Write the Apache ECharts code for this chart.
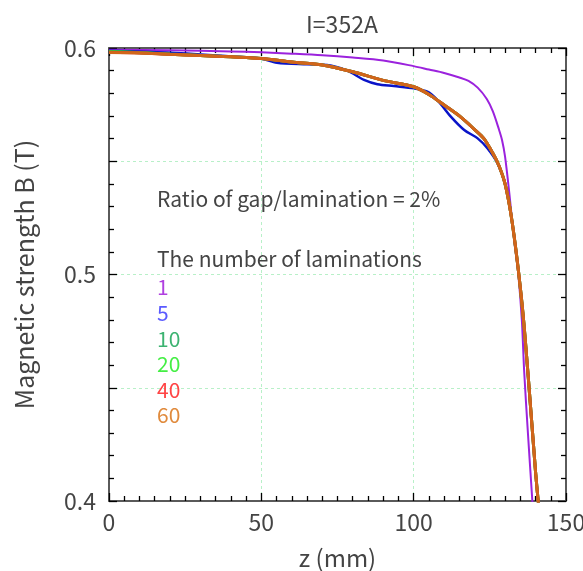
<!DOCTYPE html>
<html>
<head>
<meta charset="utf-8">
<script src="https://cdn.jsdelivr.net/npm/echarts@6/dist/echarts.min.js"></script>
<style>
  html, body { margin: 0; padding: 0; background: #fff; }
  #chart { width: 583px; height: 571px; }
</style>
</head>
<body>
<div id="chart"></div>
<script>
// Axial position z (mm) and field B (T) for each lamination count
const zOne = [0, 20, 40, 50, 60, 70, 80, 90, 100, 105, 110, 115, 118, 121, 124, 126, 128, 129, 130, 131.4, 133, 134.3, 135.5, 136.3, 137.5, 139];
const bOne = [0.5992, 0.5990, 0.5985, 0.5981, 0.5975, 0.5968, 0.5958, 0.5945, 0.5920, 0.5905, 0.5890, 0.5870, 0.5855, 0.5825, 0.5775, 0.5720, 0.5640, 0.5594, 0.5520, 0.5358, 0.5150, 0.5007, 0.4800, 0.4565, 0.4300, 0.3991];

const zFive = [0, 19, 40, 49.7, 55.1, 65, 71.6, 78.2, 83.7, 88.1, 93.5, 100.1, 104.5, 107.8, 112.2, 116.6, 121, 124.2, 127.5, 130, 132, 134, 136, 138, 140, 141];
const bFive = [0.5988, 0.5980, 0.5963, 0.5954, 0.5935, 0.5928, 0.5925, 0.5900, 0.5859, 0.5840, 0.5832, 0.5822, 0.5807, 0.5770, 0.5697, 0.5638, 0.5601, 0.5557, 0.5491, 0.5400, 0.5260, 0.5060, 0.4810, 0.4480, 0.4130, 0.3980];

const zMany = [0, 10, 20, 30, 40, 50, 60, 70, 80, 90, 100, 105, 110, 115, 120, 123, 126, 128, 130, 132, 134, 136, 138, 140, 141];
const bTen = [0.5985, 0.5980, 0.5973, 0.5967, 0.5961, 0.5954, 0.5938, 0.5925, 0.5895, 0.5857, 0.5829, 0.5795, 0.5748, 0.5700, 0.5640, 0.5601, 0.5535, 0.5480, 0.5400, 0.5260, 0.5060, 0.4810, 0.4480, 0.4130, 0.3980];
const bTwenty = [0.5983, 0.5979, 0.5972, 0.5967, 0.5961, 0.5954, 0.5938, 0.5925, 0.5895, 0.5857, 0.5829, 0.5795, 0.5748, 0.5700, 0.5640, 0.5601, 0.5535, 0.5480, 0.5400, 0.5260, 0.5060, 0.4810, 0.4480, 0.4130, 0.3980];
const bForty = [0.5981, 0.5978, 0.5972, 0.5967, 0.5961, 0.5954, 0.5938, 0.5925, 0.5895, 0.5857, 0.5829, 0.5795, 0.5748, 0.5700, 0.5640, 0.5601, 0.5535, 0.5480, 0.5400, 0.5260, 0.5060, 0.4810, 0.4480, 0.4130, 0.3980];
const bSixty = [0.5980, 0.5978, 0.5972, 0.5967, 0.5961, 0.5954, 0.5938, 0.5925, 0.5895, 0.5857, 0.5829, 0.5795, 0.5748, 0.5700, 0.5640, 0.5601, 0.5535, 0.5480, 0.5400, 0.5260, 0.5060, 0.4810, 0.4480, 0.4130, 0.3980];

const laminationNames = ['1', '5', '10', '20', '40', '60'];
const lineColors = ['#9b22dd', '#0a14c8', '#2e9e5a', '#2ee82e', '#ee2a2a', '#d0661a'];
const labelColors = ['#b040e0', '#5a5aff', '#3cb371', '#44ee44', '#ff4444', '#e08a3c'];
const lineWidths = [2, 2.5, 3, 3, 3, 3];

const xTickLabels = ['0', '50', '100', '150'];
const yTickLabels = ['0.4', '0.5', '0.6'];

function pairs(xs, ys) { return xs.map((x, i) => [x, ys[i]]); }
const seriesData = [pairs(zOne, bOne), pairs(zFive, bFive), pairs(zMany, bTen), pairs(zMany, bTwenty), pairs(zMany, bForty), pairs(zMany, bSixty)];

const FONT = '"Noto Sans CJK JP", "Noto Sans", sans-serif';
const TEXT = '#444';
const AXIS = '#5a5a5a';
const TICK = '#000000';
const GRIDLINE = { show: true, lineStyle: { color: '#b8f0c8', type: [3, 3], width: 1 } };

// Frame axis with inward major and minor ticks
function frameAxis(splitNumber) {
  return {
    axisLine: { show: true, onZero: false, lineStyle: { color: AXIS, width: 2 } },
    axisTick: { show: true, inside: true, length: 8, lineStyle: { color: TICK, width: 1.3 } },
    minorTick: { show: true, splitNumber: splitNumber, length: 5, lineStyle: { color: TICK, width: 1.3 } },
    minorSplitLine: { show: false }
  };
}

const chart = echarts.init(document.getElementById('chart'), null, { renderer: 'canvas' });

chart.setOption({
  animation: false,
  backgroundColor: '#fff',
  textStyle: { fontFamily: FONT },
  title: {
    text: 'I=352A', left: 337, top: 8, textAlign: 'center',
    textStyle: { fontFamily: FONT, fontSize: 23, fontWeight: 'normal', color: TEXT }
  },
  grid: { left: 109, right: 17, top: 48, bottom: 70, outerBoundsMode: 'none', containLabel: false },
  legend: {
    orient: 'vertical', left: 152, top: 277, padding: 0, icon: 'none', itemWidth: 0, itemHeight: 14, itemGap: 4.6,
    selectedMode: false,
    data: laminationNames.map((n, i) => ({ name: n, textStyle: { color: labelColors[i] } })),
    textStyle: { fontFamily: FONT, fontSize: 21 }
  },
  graphic: [
    { type: 'text', left: 157, top: 189, z: 10, style: { text: 'Ratio of gap/lamination = 2%', fontFamily: FONT, fontSize: 21, fill: TEXT } },
    { type: 'text', left: 157, top: 249, z: 10, style: { text: 'The number of laminations', fontFamily: FONT, fontSize: 21, fill: TEXT } }
  ],
  xAxis: [
    Object.assign({
      type: 'value', min: 0, max: 150, interval: 50, position: 'bottom',
      name: 'z (mm)', nameLocation: 'middle', nameGap: 45,
      nameTextStyle: { fontFamily: FONT, fontSize: 24, color: TEXT },
      axisLabel: { margin: 10, fontFamily: FONT, fontSize: 23, color: TEXT,
        formatter: v => xTickLabels.indexOf(String(v)) >= 0 ? String(v) : '' },
      splitLine: GRIDLINE
    }, frameAxis(10)),
    Object.assign({
      type: 'value', min: 0, max: 150, interval: 50, position: 'top',
      axisLabel: { show: false }, splitLine: { show: false }
    }, frameAxis(10))
  ],
  yAxis: [
    Object.assign({
      type: 'value', min: 0.4, max: 0.6, interval: 0.05, position: 'left',
      name: 'Magnetic strength B (T)', nameLocation: 'middle', nameGap: 72,
      nameTextStyle: { fontFamily: FONT, fontSize: 25, color: TEXT },
      axisLabel: { margin: 13, fontFamily: FONT, fontSize: 23, color: TEXT,
        formatter: v => { const s = (Math.round(v * 100) / 100).toString(); return yTickLabels.indexOf(s) >= 0 ? s : ''; } },
      splitLine: GRIDLINE
    }, frameAxis(5)),
    Object.assign({
      type: 'value', min: 0.4, max: 0.6, interval: 0.05, position: 'right',
      axisLabel: { show: false }, splitLine: { show: false }
    }, frameAxis(5))
  ],
  series: laminationNames.map((n, i) => ({
    name: n, type: 'line', xAxisIndex: 0, yAxisIndex: 0,
    data: seriesData[i], smooth: 0.3, showSymbol: false, symbol: 'none',
    clip: true, z: 2 + i,
    lineStyle: { color: lineColors[i], width: lineWidths[i] },
    itemStyle: { color: lineColors[i] }
  }))
});
</script>
</body>
</html>
